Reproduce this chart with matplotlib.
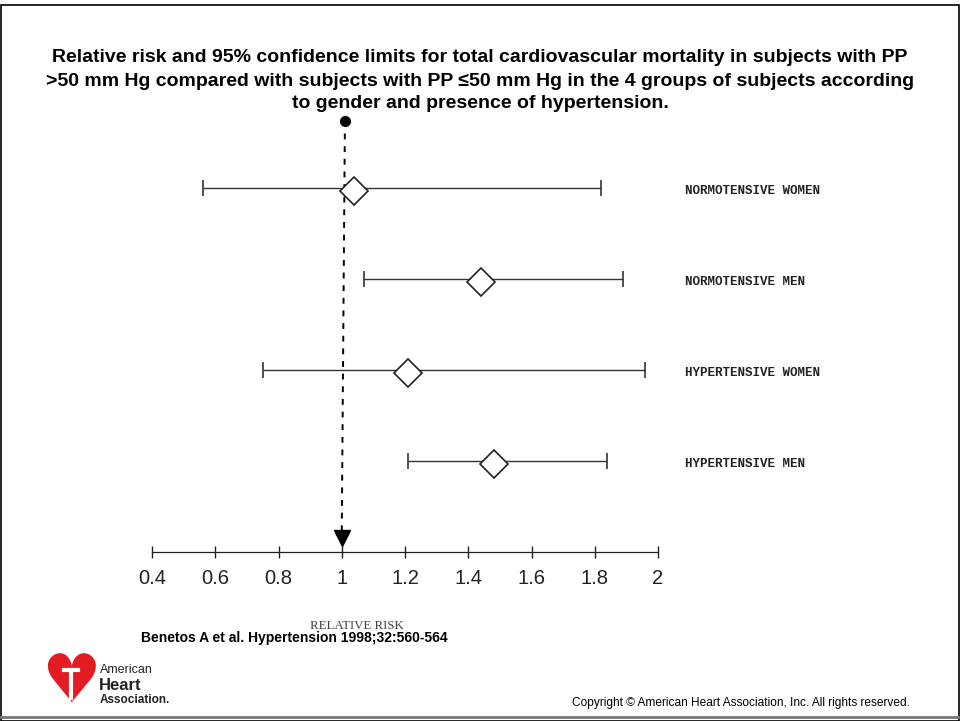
import matplotlib
matplotlib.use("Agg")
import matplotlib.pyplot as plt
from matplotlib.patches import Rectangle

# relative risk (point estimate) and 95% limits
groups = ["NORMOTENSIVE WOMEN", "NORMOTENSIVE MEN", "HYPERTENSIVE WOMEN", "HYPERTENSIVE MEN"]
rr = [1.04, 1.44, 1.21, 1.48]
rr_low = [0.56, 1.07, 0.75, 1.21]
rr_high = [1.82, 1.89, 1.96, 1.84]
row_pos = [4, 3, 2, 1]
xticks = [0.4, 0.6, 0.8, 1.0, 1.2, 1.4, 1.6, 1.8, 2.0]
xticklabels = ["0.4", "0.6", "0.8", "1", "1.2", "1.4", "1.6", "1.8", "2"]

W, H = 960, 721
fig = plt.figure(figsize=(W / 100, H / 100), dpi=100)

# frame round the slide
fig.add_artist(Rectangle((0.5 / W, 0.5 / H), 1 - 1.5 / W, 1 - 5 / H, transform=fig.transFigure,
                         fill=False, edgecolor="black", linewidth=1.2))
fig.add_artist(plt.Line2D([0, 1], [4 / H, 4 / H], transform=fig.transFigure, color="#777777", lw=2))

title_lines = ["Relative risk and 95% confidence limits for total cardiovascular mortality in subjects with PP",
               ">50 mm Hg compared with subjects with PP \u226450 mm Hg in the 4 groups of subjects according",
               "to gender and presence of hypertension."]
for i, line in enumerate(title_lines):
    fig.text(0.5, 1 - (58 + 23 * i) / H, line, ha="center", va="center", fontsize=14,
             fontweight="bold", family="Liberation Sans")

# axes: x 0.4..2 spans px 152..658, y 0..4.75 spans px 552..120
left, right = 152 / W, 658 / W
bottom, top = 1 - 552 / H, 1 - 120 / H
ax = fig.add_axes([left, bottom, right - left, top - bottom])
ax.set_xlim(0.4, 2.0)
ax.set_ylim(0, 4.75)
for s in ["top", "right", "left"]:
    ax.spines[s].set_visible(False)
ax.spines["bottom"].set_linewidth(0.9)
ax.spines["bottom"].set_color("#222222")
ax.set_yticks([])
ax.set_xticks(xticks)
ax.set_xticklabels(xticklabels, family="Liberation Sans", fontsize=14.5)
ax.tick_params(axis="x", direction="inout", length=9, width=1, pad=8, colors="#222222")
ax.patch.set_alpha(0)

# reference line at RR = 1
ax.plot([1.01, 1.0], [4.74, 0.2], color="black", lw=1.4, dashes=(3, 3.5), clip_on=False)
ax.plot([1.01], [4.74], marker="o", color="black", markersize=7, clip_on=False)
ax.plot([1.0], [0.15], marker="v", color="black", markersize=11, clip_on=False)

for y, m, lo, hi in zip(row_pos, rr, rr_low, rr_high):
    ax.errorbar([m], [y], xerr=[[m - lo], [hi - m]], fmt="none", ecolor="#333333",
                elinewidth=1.0, capsize=6, capthick=1.2, clip_on=False)
    ax.plot([m], [y - 0.03], marker="D", markersize=14, markerfacecolor="white",
            markeredgecolor="#222222", markeredgewidth=1.2, clip_on=False)

for y, g in zip(row_pos, groups):
    ax.text(2.085, y - 0.03, g, ha="left", va="center", fontsize=9,
            family="Liberation Mono", fontweight="bold", color="#222222", clip_on=False)

fig.text(357 / W, 1 - 626 / H, "RELATIVE RISK", ha="center", va="center", fontsize=9.3,
         family="Liberation Serif", color="#444444")
fig.text(141 / W, 1 - 638 / H, "Benetos A et al. Hypertension 1998;32:560-564", ha="left",
         va="center", fontsize=10, fontweight="bold", family="Liberation Sans")
fig.text(572 / W, 1 - 703 / H, "Copyright \u00a9 American Heart Association, Inc. All rights reserved.",
         ha="left", va="center", fontsize=8.6, family="Liberation Sans")

# AHA logo (simplified): red heart with a white torch
fig.text(71 / W, 1 - 683 / H, "\u2665", ha="center", va="center", fontsize=48, color="#e31b23",
         family="DejaVu Sans", zorder=5)
fig.add_artist(plt.Line2D([71 / W, 71 / W], [1 - 670 / H, 1 - 698 / H], transform=fig.transFigure,
                          color="white", lw=3, zorder=10))
fig.add_artist(plt.Line2D([64 / W, 78 / W], [1 - 670 / H, 1 - 670 / H], transform=fig.transFigure,
                          color="white", lw=3, zorder=10))
fig.text(100 / W, 1 - 670 / H, "American", ha="left", va="center", fontsize=9, family="Liberation Sans",
         color="#222222")
fig.text(99 / W, 1 - 685 / H, "Heart", ha="left", va="center", fontsize=12, fontweight="bold",
         family="Liberation Sans", color="#222222")
fig.text(100 / W, 1 - 700 / H, "Association.", ha="left", va="center", fontsize=8.5, fontweight="bold",
         family="Liberation Sans", color="#222222")

fig.savefig("out.png", dpi=100)
